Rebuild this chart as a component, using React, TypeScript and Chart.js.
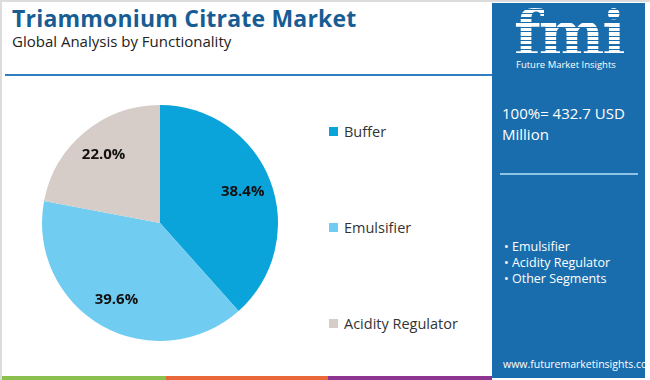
import React, { useEffect, useRef } from "react";
import { Chart, registerables } from "chart.js";

Chart.register(...registerables);

const categories = ["Buffer", "Emulsifier", "Acidity Regulator"];
const shares = [38.4, 39.6, 22.0];
const colors = ["#0aa3da", "#70cdf1", "#d6ccc8"];
const panelBullets = ["Emulsifier", "Acidity Regulator", "Other Segments"];
const totalText = "100%= 432.7 USD Million";

const labelPlugin = {
  id: "sliceLabels",
  afterDatasetsDraw(chart: any) {
    const ctx = chart.ctx;
    const meta = chart.getDatasetMeta(0);
    ctx.save();
    ctx.font = "bold 15px 'Open Sans', sans-serif";
    ctx.fillStyle = "#111";
    ctx.textAlign = "center";
    ctx.textBaseline = "middle";
    meta.data.forEach((arc: any, i: number) => {
      const p = arc.getProps(["x", "y", "startAngle", "endAngle", "outerRadius"], true);
      const mid = (p.startAngle + p.endAngle) / 2;
      const r = p.outerRadius * 0.75;
      ctx.fillText(shares[i].toFixed(1) + "%", p.x + Math.cos(mid) * r, p.y + Math.sin(mid) * r);
    });
    ctx.restore();
  },
};

function PieChart() {
  const ref = useRef<HTMLCanvasElement>(null);
  useEffect(() => {
    const chart = new Chart(ref.current!, {
      type: "pie",
      data: {
        labels: categories,
        datasets: [{ data: shares, backgroundColor: colors, borderWidth: 0 }],
      },
      options: {
        animation: false,
        responsive: false,
        maintainAspectRatio: false,
        layout: { padding: 0 },
        plugins: { legend: { display: false }, tooltip: { enabled: false } },
      },
      plugins: [labelPlugin],
    });
    return () => chart.destroy();
  }, []);
  return <canvas ref={ref} width={236} height={236} style={{ position: "absolute", left: 42, top: 105, width: 236, height: 236 }} />;
}

export default function App() {
  const legendTops = [122, 218, 314];
  return (
    <div style={{ position: "fixed", left: 0, top: 0, width: 650, height: 380, background: "#fff", overflow: "hidden", fontFamily: "'Open Sans', sans-serif" }}>
      <div style={{ position: "absolute", left: 0, top: 0, width: 648, height: 378, borderLeft: "2px solid #dcdcdc", borderTop: "2px solid #dcdcdc" }} />
      <div style={{ position: "absolute", left: 12, top: 2, fontSize: 23, fontWeight: 700, color: "#175d94", whiteSpace: "nowrap", letterSpacing: 0.2 }}>
        Triammonium Citrate Market
      </div>
      <div style={{ position: "absolute", left: 12, top: 31, fontSize: 15, color: "#222", whiteSpace: "nowrap" }}>
        Global Analysis by Functionality
      </div>
      <div style={{ position: "absolute", left: 5, top: 74, width: 487, height: 2, background: "#2f7fc0" }} />
      <PieChart />
      {categories.map((c, i) => (
        <div key={c} style={{ position: "absolute", left: 329, top: legendTops[i], height: 18, display: "flex", alignItems: "center", whiteSpace: "nowrap" }}>
          <span style={{ display: "inline-block", width: 9, height: 9, background: colors[i], marginRight: 6 }} />
          <span style={{ fontSize: 14.5, color: "#333" }}>{c}</span>
        </div>
      ))}
      <div style={{ position: "absolute", left: 492, top: 3, width: 153, height: 375, background: "#1a6dac" }}>
        <div
          style={{
            position: "absolute", left: 22, top: -2, fontSize: 62, fontWeight: 700, fontFamily: "'DejaVu Serif', serif",
            letterSpacing: -2, lineHeight: "66px",
            backgroundImage: "repeating-linear-gradient(to bottom, #ffffff 0px, #ffffff 3px, #1a6dac 3px, #1a6dac 4.5px)",
            WebkitBackgroundClip: "text", backgroundClip: "text", color: "transparent",
          }}
        >
          fmi
        </div>
        <div style={{ position: "absolute", left: 24, top: 55, fontSize: 9.5, color: "#fff", whiteSpace: "nowrap" }}>Future Market Insights</div>
        <div style={{ position: "absolute", left: 10, top: 100, width: 135, fontSize: 15, lineHeight: "21px", color: "#fff" }}>{totalText}</div>
        <div style={{ position: "absolute", left: 8, top: 170, width: 138, height: 2, background: "#8ec3e6" }} />
        <div style={{ position: "absolute", left: 12, top: 236, fontSize: 12.5, color: "#fff", lineHeight: "16px" }}>
          {panelBullets.map((b) => (
            <div key={b} style={{ whiteSpace: "nowrap" }}>• {b}</div>
          ))}
        </div>
        <div style={{ position: "absolute", left: 11, top: 354, fontSize: 10.5, color: "#fff", whiteSpace: "nowrap" }}>www.futuremarketinsights.com</div>
      </div>
      <div style={{ position: "absolute", left: 2, top: 376, width: 164, height: 4, background: "#8bc04f" }} />
      <div style={{ position: "absolute", left: 166, top: 376, width: 162, height: 4, background: "#e8683a" }} />
      <div style={{ position: "absolute", left: 328, top: 376, width: 164, height: 4, background: "#8e3592" }} />
    </div>
  );
}
